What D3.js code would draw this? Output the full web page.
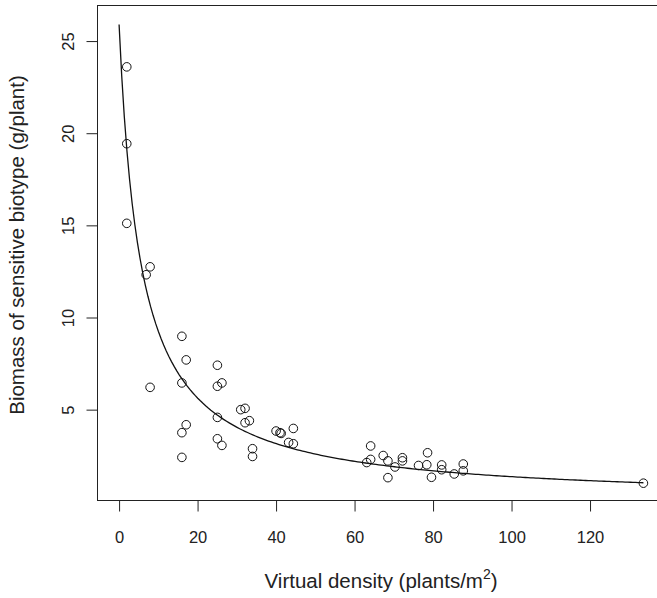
<!DOCTYPE html>
<html>
<head>
<meta charset="utf-8">
<script src="https://cdn.jsdelivr.net/npm/d3@7"></script>
<style>
  html, body { margin: 0; padding: 0; background: #fff; }
  svg { display: block; }
  text { font-family: "Liberation Sans", Arial, Helvetica, sans-serif; fill: #222; }
</style>
</head>
<body>
<svg id="chart" width="657" height="598"></svg>
<script>
// Observed density (plants/m^2) and biomass of the sensitive biotype (g/plant)
const density = [
  1.96, 1.96, 1.96,
  7.9, 6.9, 16.0, 17.1, 7.9, 16.0, 17.1, 16.0, 16.0,
  25.05, 26.2, 25.05, 25.05, 25.05, 26.2, 31.0, 32.1, 32.1, 33.2, 34.0, 34.0,
  40.0, 41.0, 41.3, 44.4, 43.2, 44.4,
  64.1, 64.1, 63.1, 67.3, 68.5, 70.3, 68.5, 72.2, 72.2, 76.3, 78.6, 78.4, 79.6,
  82.2, 82.2, 85.4, 87.7, 87.7,
  133.6
];
const biomass = [
  23.6, 19.43, 15.11,
  12.75, 12.32, 8.98, 7.70, 6.21, 6.45, 4.18, 3.75, 2.41,
  7.41, 6.45, 6.27, 4.58, 3.42, 3.06, 5.0, 5.07, 4.29, 4.40, 2.88, 2.46,
  3.84, 3.75, 3.71, 3.98, 3.22, 3.15,
  3.03, 2.30, 2.13, 2.51, 2.22, 1.89, 1.31, 2.39, 2.22, 1.97, 2.66, 2.01, 1.33,
  2.00, 1.74, 1.51, 2.05, 1.68,
  1.01
];

// Fitted hyperbolic yield-density model: y = y0 / (1 + b * x)
const fitY0 = 25.9;
const fitB = 0.18;
const fitRange = [0, 133.6];

const xTicks = [0, 20, 40, 60, 80, 100, 120];
const yTicks = [5, 10, 15, 20, 25];

const svg = d3.select("#chart");
const FONT = '"Liberation Sans", Arial, Helvetica, sans-serif';

const x = d3.scaleLinear().domain([-5.5, 139]).range([97.5, 664.6]);
const y = d3.scaleLinear().domain([0.07, 26.93]).range([500.5, 5.5]);

// plot frame
svg.append("rect")
  .attr("x", x.range()[0]).attr("y", y.range()[1])
  .attr("width", x.range()[1] - x.range()[0])
  .attr("height", y.range()[0] - y.range()[1])
  .attr("fill", "none").attr("stroke", "#222").attr("stroke-width", 1);

// x axis
const xAxis = svg.append("g")
  .attr("transform", `translate(0,${y.range()[0]})`)
  .call(d3.axisBottom(x).tickValues(xTicks).tickSize(11).tickPadding(20).tickFormat(d3.format("d")));
xAxis.select(".domain").remove();
xAxis.selectAll("line").attr("stroke", "#222");
xAxis.selectAll("text").attr("font-size", 16.5).attr("fill", "#222").style("font-family", FONT);

// y axis (labels rotated parallel to the axis)
const yAxis = svg.append("g")
  .attr("transform", `translate(${x.range()[0]},0)`)
  .call(d3.axisLeft(y).tickValues(yTicks).tickSize(11).tickFormat(d3.format("d")));
yAxis.select(".domain").remove();
yAxis.selectAll("line").attr("stroke", "#222");
yAxis.selectAll("text")
  .attr("font-size", 16.5).attr("fill", "#222")
  .style("font-family", FONT)
  .attr("x", 0).attr("y", 0).attr("dy", null)
  .attr("text-anchor", "middle")
  .attr("dominant-baseline", "central")
  .attr("transform", "translate(-30,0) rotate(-90)");

// axis titles
const xTitle = svg.append("text")
  .attr("x", (x.range()[0] + x.range()[1]) / 2)
  .attr("y", 588)
  .attr("text-anchor", "middle")
  .attr("font-size", 20.5);
xTitle.append("tspan").text("Virtual density (plants/m");
xTitle.append("tspan").attr("font-size", 14).attr("dy", -9).text("2");
xTitle.append("tspan").attr("dy", 9).text(")");

svg.append("text")
  .attr("transform", "translate(24,245) rotate(-90)")
  .attr("text-anchor", "middle")
  .attr("font-size", 20.5)
  .text("Biomass of sensitive biotype (g/plant)");

// fitted curve
const curvePts = d3.range(0, 201).map(i => {
  const xv = fitRange[0] + (fitRange[1] - fitRange[0]) * i / 200;
  return [xv, fitY0 / (1 + fitB * xv)];
});
svg.append("path")
  .datum(curvePts)
  .attr("fill", "none")
  .attr("stroke", "#111")
  .attr("stroke-width", 1.3)
  .attr("d", d3.line().x(d => x(d[0])).y(d => y(d[1])));

// observations
svg.append("g").selectAll("circle")
  .data(density.map((d, i) => ({ d, b: biomass[i] })))
  .join("circle")
  .attr("cx", p => x(p.d))
  .attr("cy", p => y(p.b))
  .attr("r", 4.3)
  .attr("fill", "none")
  .attr("stroke", "#111")
  .attr("stroke-width", 1);
</script>
</body>
</html>
